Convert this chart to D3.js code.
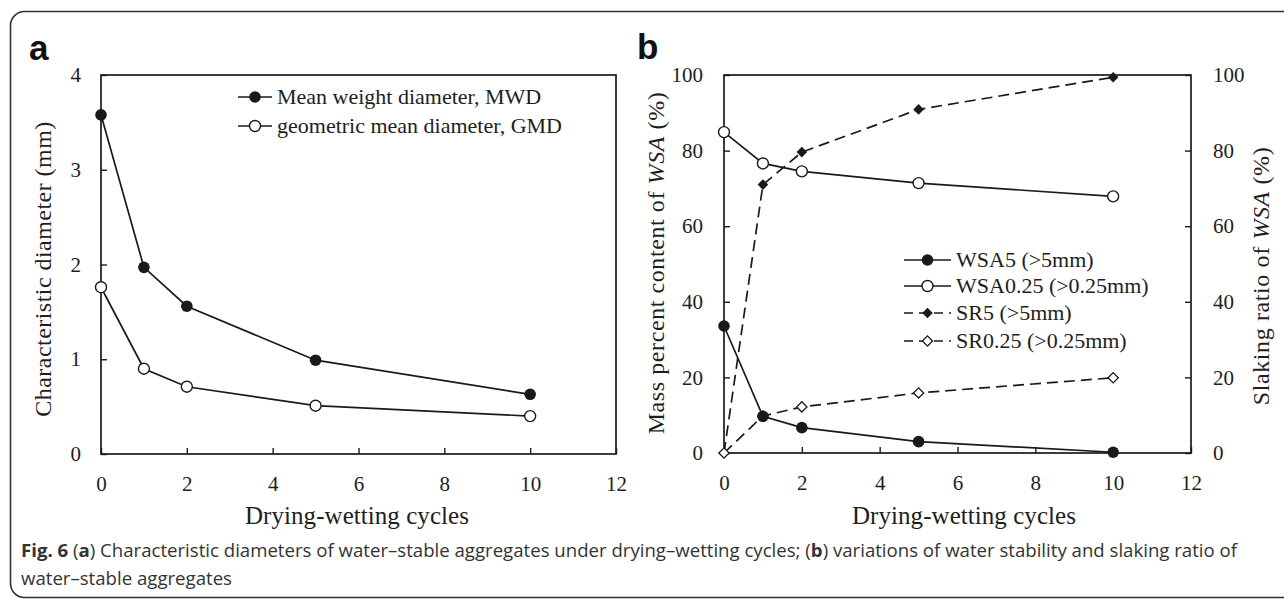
<!DOCTYPE html>
<html><head><meta charset="utf-8">
<script src="https://cdn.jsdelivr.net/npm/d3@7"></script>
<style>
html,body{margin:0;padding:0;background:#fff;}
svg{display:block;}
</style></head>
<body>
<svg id="c" width="1284" height="599"></svg>
<script>
// ---------------- data ----------------
const cycles = [0, 1, 2, 5, 10];
const mwd = [3.58, 1.97, 1.56, 0.99, 0.63];
const gmd = [1.76, 0.90, 0.71, 0.51, 0.40];
const wsa5 = [33.6, 9.7, 6.7, 3.0, 0.2];
const wsa025 = [84.9, 76.6, 74.5, 71.4, 67.9];
const sr5 = [0, 71.0, 79.6, 90.9, 99.4];
const sr025 = [0, 9.8, 12.2, 15.9, 19.9];
const xTicks = [0, 2, 4, 6, 8, 10, 12];
const yTicksA = [0, 1, 2, 3, 4];
const yTicksB = [0, 20, 40, 60, 80, 100];
const legendA = ["Mean weight diameter, MWD", "geometric mean diameter, GMD"];
const legendB = ["WSA5 (>5mm)", "WSA0.25 (>0.25mm)", "SR5 (>5mm)", "SR0.25 (>0.25mm)"];

const SERIF = "Liberation Serif, Times New Roman, serif";
const svg = d3.select("#c");
const ink = "#1a1a1a";
const txt = "#1e1e1e";

// outer frame
svg.append("rect").attr("x", 10.5).attr("y", 11.5).attr("width", 1290).attr("height", 586)
  .attr("rx", 14).attr("fill", "none").attr("stroke", "#333").attr("stroke-width", 1.6);

// ---------------- helpers ----------------
function styleAxis(g) {
  g.attr("font-family", SERIF).attr("font-size", 21);
  g.select(".domain").remove();
  g.selectAll(".tick line").attr("stroke", ink).attr("stroke-width", 1.4);
  g.selectAll(".tick text").attr("font-family", SERIF).attr("font-size", 21).attr("fill", txt);
}
const sym = (type, size) => d3.symbol().type(type).size(size)();
const fmt = d3.format("d");

function marker(g, x, y, kind) {
  if (kind === "fc") g.append("circle").attr("cx", x).attr("cy", y).attr("r", 5.8).attr("fill", ink);
  else if (kind === "oc") g.append("circle").attr("cx", x).attr("cy", y).attr("r", 5.5).attr("fill", "#fff").attr("stroke", ink).attr("stroke-width", 1.4);
  else if (kind === "fd") g.append("path").attr("d", sym(d3.symbolSquare, 56)).attr("transform", `translate(${x},${y}) rotate(45)`).attr("fill", ink);
  else if (kind === "od") g.append("path").attr("d", sym(d3.symbolSquare, 52)).attr("transform", `translate(${x},${y}) rotate(45)`).attr("fill", "#fff").attr("stroke", ink).attr("stroke-width", 1.3);
}

function series(g, xs, ys, vals, kind, dashed) {
  const line = d3.line().x((d, i) => xs(cycles[i])).y(d => ys(d));
  g.append("path").datum(vals).attr("d", line).attr("fill", "none").attr("stroke", ink)
    .attr("stroke-width", 1.7).attr("stroke-dasharray", dashed ? "11,6" : null);
  vals.forEach((v, i) => marker(g, xs(cycles[i]), ys(v), kind));
}

function legendRow(g, x0, x1, y, kind, dashed, label, tx) {
  g.append("line").attr("x1", x0).attr("x2", x1).attr("y1", y).attr("y2", y).attr("stroke", ink)
    .attr("stroke-width", 1.7).attr("stroke-dasharray", dashed ? "9,6" : null);
  marker(g, (x0 + x1) / 2, y, kind);
  g.append("text").attr("x", tx).attr("y", y).attr("dy", "0.34em")
    .attr("font-family", SERIF).attr("font-size", 22).attr("fill", txt).text(label);
}

function fitSpacing(t, target) {
  const n = t.text().length;
  const w = t.node().getComputedTextLength();
  t.style("letter-spacing", ((target - w) / (n - 1)) + "px");
}

function title(g, x, y, rot, parts, size, target) {
  const t = g.append("text").attr("text-anchor", "middle")
    .attr("transform", `translate(${x},${y})` + (rot ? " rotate(-90)" : ""))
    .attr("font-family", SERIF).attr("font-size", size).attr("fill", txt);
  parts.forEach(p => t.append("tspan").style("font-style", p[1] ? "italic" : null).text(p[0]));
  if (target) fitSpacing(t, target);
  return t;
}

// ---------------- panel a ----------------
const xA = d3.scaleLinear().domain([0, 12]).range([101, 616]);
const yA = d3.scaleLinear().domain([0, 4]).range([454, 75]);
const gA = svg.append("g");

gA.append("g").attr("transform", `translate(0,${yA(0)})`)
  .call(d3.axisBottom(xA).tickValues(xTicks).tickFormat(fmt).tickSizeInner(-6).tickSizeOuter(0).tickPadding(22))
  .call(styleAxis).call(g => g.selectAll(".tick text").attr("dy", "0.71em"));
gA.append("g").attr("transform", `translate(${xA(0)},0)`)
  .call(d3.axisLeft(yA).tickValues(yTicksA).tickFormat(fmt).tickSizeInner(-6).tickSizeOuter(0).tickPadding(20))
  .call(styleAxis);
gA.append("rect").attr("x", xA(0)).attr("y", yA(4)).attr("width", xA(12) - xA(0)).attr("height", yA(0) - yA(4))
  .attr("fill", "none").attr("stroke", ink).attr("stroke-width", 1.7);

series(gA, xA, yA, gmd, "oc", false);
series(gA, xA, yA, mwd, "fc", false);

legendRow(gA, 238, 272, 97, "fc", false, legendA[0], 277);
legendRow(gA, 238, 272, 126, "oc", false, legendA[1], 277);

title(gA, 357, 524, false, [["Drying-wetting cycles"]], 25, 224);
title(gA, 51, 269, true, [["Characteristic diameter (mm)"]], 24, 295);
svg.append("text").attr("x", 29).attr("y", 60).attr("font-family", "Liberation Sans, Arial, sans-serif")
  .attr("font-weight", "bold").attr("font-size", 35).attr("fill", "#111").text("a");

// ---------------- panel b ----------------
const xB = d3.scaleLinear().domain([0, 12]).range([724, 1191]);
const yB = d3.scaleLinear().domain([0, 100]).range([453, 75]);
const yR = d3.scaleLinear().domain([0, 100]).range([453, 75]);
const gB = svg.append("g");

gB.append("g").attr("transform", `translate(0,${yB(0)})`)
  .call(d3.axisBottom(xB).tickValues(xTicks).tickFormat(fmt).tickSizeInner(-6).tickSizeOuter(0).tickPadding(22))
  .call(styleAxis).call(g => g.selectAll(".tick text").attr("dy", "0.71em"));
gB.append("g").attr("transform", `translate(${xB(0)},0)`)
  .call(d3.axisLeft(yB).tickValues(yTicksB).tickFormat(fmt).tickSizeInner(-6).tickSizeOuter(0).tickPadding(21))
  .call(styleAxis);
gB.append("g").attr("transform", `translate(${xB(12)},0)`)
  .call(d3.axisRight(yR).tickValues(yTicksB).tickFormat(fmt).tickSizeInner(-6).tickSizeOuter(0).tickPadding(22))
  .call(styleAxis);
gB.append("rect").attr("x", xB(0)).attr("y", yB(100)).attr("width", xB(12) - xB(0)).attr("height", yB(0) - yB(100))
  .attr("fill", "none").attr("stroke", ink).attr("stroke-width", 1.7);

series(gB, xB, yR, sr5, "fd", true);
series(gB, xB, yR, sr025, "od", true);
series(gB, xB, yB, wsa025, "oc", false);
series(gB, xB, yB, wsa5, "fc", false);

legendRow(gB, 904, 951, 260, "fc", false, legendB[0], 956);
legendRow(gB, 904, 951, 286, "oc", false, legendB[1], 956);
legendRow(gB, 904, 951, 313, "fd", true, legendB[2], 956);
legendRow(gB, 904, 951, 341, "od", true, legendB[3], 956);

title(gB, 964, 524, false, [["Drying-wetting cycles"]], 25, 224);
title(gB, 664, 263, true, [["Mass percent content of "], ["WSA", true], [" (%)"]], 24, 342);
title(gB, 1269, 276, true, [["Slaking ratio of "], ["WSA", true], [" (%)"]], 24, 258);
svg.append("text").attr("x", 637).attr("y", 59).attr("font-family", "Liberation Sans, Arial, sans-serif")
  .attr("font-weight", "bold").attr("font-size", 35).attr("fill", "#111").text("b");

// ---------------- caption ----------------
const CAPF = "Open Sans, Noto Sans, sans-serif";
const cap = svg.append("text").attr("x", 21).attr("y", 557)
  .attr("font-family", CAPF).attr("font-size", 15).attr("fill", "#333");
cap.append("tspan").attr("font-weight", "bold").text("Fig. 6");
cap.append("tspan").text(" (");
cap.append("tspan").attr("font-weight", "bold").text("a");
cap.append("tspan").text(") Characteristic diameters of water\u2013stable aggregates under drying\u2013wetting cycles; (");
cap.append("tspan").attr("font-weight", "bold").text("b");
cap.append("tspan").text(") variations of water stability and slaking ratio of");
const w = cap.node().getComputedTextLength();
const fs = 15 * (1217 / w);
cap.attr("font-size", fs);
svg.append("text").attr("x", 21).attr("y", 585)
  .attr("font-family", CAPF).attr("font-size", fs).attr("fill", "#333")
  .text("water\u2013stable aggregates");
</script>
</body></html>
